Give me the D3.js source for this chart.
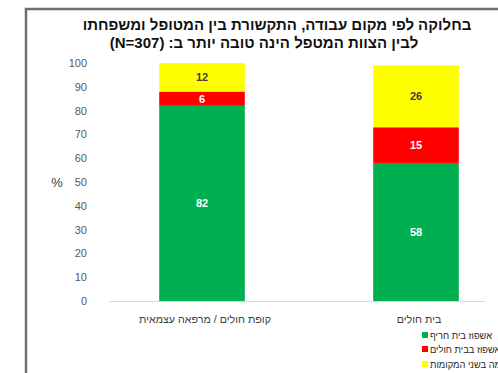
<!DOCTYPE html>
<html>
<head>
<meta charset="utf-8">
<script src="https://cdn.jsdelivr.net/npm/d3@7"></script>
<style>
  html, body { margin: 0; padding: 0; background: #fff; }
  svg { display: block; font-family: "Liberation Sans", Arial, sans-serif; }
</style>
</head>
<body>
<svg id="chart" width="498" height="373"></svg>
<script>
// Hospitalisation setting vs. quality of communication (stacked %)
const categories = ["קופת חולים / מרפאה עצמאית", "בית חולים"];
const seriesNames = ["אשפוז בית חריף", "אשפוז בבית חולים", "דומה בשני המקומות"];
const seriesColors = ["#00B050", "#FF0000", "#FFFF00"];
const labelColors = ["#ffffff", "#ffffff", "#404040"];
const acuteHome = [82, 58];
const hospital = [6, 15];
const similar = [12, 26];
const yTicks = [0, 10, 20, 30, 40, 50, 60, 70, 80, 90, 100];
const titleLines = [
  "בחלוקה לפי מקום עבודה, התקשורת בין המטופל ומשפחתו",
  "לבין הצוות המטפל הינה טובה יותר ב: (N=307)"
];

const svg = d3.select("#chart");

// outer frame (top and left edges)
svg.append("path")
  .attr("d", "M26,373 V9 H498")
  .attr("fill", "none")
  .attr("stroke", "#6f6f6f")
  .attr("stroke-width", 2.5);

// title
const titleX = [277, 264];
const titleY = [30, 48];
titleLines.forEach((t, i) => {
  svg.append("text")
    .attr("x", titleX[i]).attr("y", titleY[i])
    .attr("text-anchor", "middle")
    .attr("direction", "rtl")
    .style("unicode-bidi", "plaintext")
    .attr("font-size", 15).attr("font-weight", "bold")
    .attr("fill", "#111")
    .text(t);
});

const y = d3.scaleLinear().domain([0, 100]).range([301, 63]);
const x = d3.scaleBand().domain(categories).range([95, 523]).paddingInner(0.6).paddingOuter(0.3);

// y axis labels
const yAxis = d3.axisLeft(y).tickValues(yTicks).tickSize(0).tickPadding(0);
const gy = svg.append("g").attr("transform", "translate(87,0)").call(yAxis);
gy.select(".domain").remove();
gy.selectAll("text").attr("font-size", 11).attr("fill", "#595959")
  .style("font-family", "\"Liberation Sans\", Arial, sans-serif");

svg.append("text").attr("x", 57).attr("y", 187)
  .attr("text-anchor", "middle").attr("font-size", 13).attr("fill", "#404040").text("%");

// stacked bars
const rows = categories.map((c, i) => ({ cat: c, s0: acuteHome[i], s1: hospital[i], s2: similar[i] }));
const stack = d3.stack().keys(["s0", "s1", "s2"])(rows);

stack.forEach((layer, k) => {
  const g = svg.append("g");
  g.selectAll("rect").data(layer).join("rect")
    .attr("x", d => x(d.data.cat))
    .attr("width", x.bandwidth())
    .attr("y", d => y(d[1]))
    .attr("height", d => y(d[0]) - y(d[1]))
    .attr("fill", seriesColors[k]);
  g.selectAll("text").data(layer).join("text")
    .attr("x", d => x(d.data.cat) + x.bandwidth() / 2)
    .attr("y", d => (y(d[0]) + y(d[1])) / 2 + 4)
    .attr("text-anchor", "middle")
    .attr("font-size", 11).attr("font-weight", "bold")
    .attr("fill", labelColors[k])
    .text(d => d[1] - d[0]);
});

// baseline
svg.append("line").attr("x1", 109).attr("x2", 485)
  .attr("y1", y(0) + 0.5).attr("y2", y(0) + 0.5)
  .attr("stroke", "#d9d9d9").attr("stroke-width", 1);

// category labels
categories.forEach(c => {
  svg.append("text")
    .attr("x", x(c) + x.bandwidth() / 2 + 3).attr("y", 323)
    .attr("text-anchor", "middle")
    .attr("direction", "rtl")
    .attr("font-size", 10.7).attr("fill", "#404040")
    .text(c);
});

// legend
const legendY = [335, 349, 364];
seriesNames.forEach((n, i) => {
  svg.append("rect").attr("x", 422).attr("y", legendY[i] - 3)
    .attr("width", 6).attr("height", 6).attr("fill", seriesColors[i]);
  svg.append("text")
    .attr("x", 430).attr("y", legendY[i] + 3.5)
    .attr("text-anchor", "start")
    .attr("font-size", 9.3).attr("fill", "#262626")
    .text(n);
});
</script>
</body>
</html>
